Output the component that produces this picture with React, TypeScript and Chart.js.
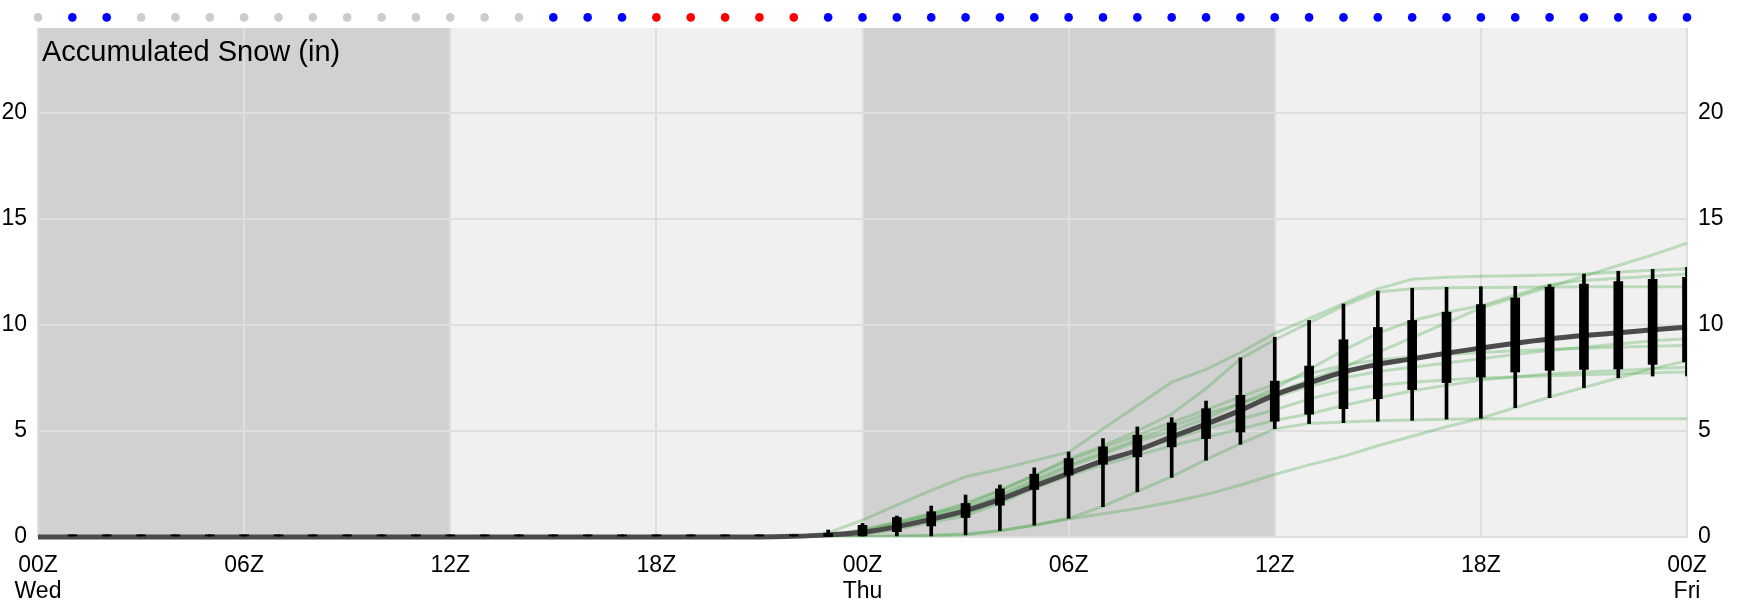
import React, { useEffect, useRef } from 'react';
import { Chart, registerables } from 'chart.js';

Chart.register(...registerables);

// ---------- data ----------
const hours = [0, 1, 2, 3, 4, 5, 6, 7, 8, 9, 10, 11, 12, 13, 14, 15, 16, 17, 18, 19, 20, 21, 22, 23, 24, 25, 26, 27, 28, 29, 30, 31, 32, 33, 34, 35, 36, 37, 38, 39, 40, 41, 42, 43, 44, 45, 46, 47, 48];

const xTickHours = [0, 6, 12, 18, 24, 30, 36, 42, 48];
const xTickLabels = [['00Z', 'Wed'], '06Z', '12Z', '18Z', ['00Z', 'Thu'], '06Z', '12Z', '18Z', ['00Z', 'Fri']];
const yTicks = [0, 5, 10, 15, 20];
const yMax = 24;
const chartTitle = 'Accumulated Snow (in)';

// night periods (hours) shaded darker
const nightPeriods = [[0, 12], [24, 36]];
const dayPeriods = [[12, 24], [36, 48]];

// precipitation type indicator per hour
const precipType = [
  'none', 'snow', 'snow', 'none', 'none', 'none', 'none', 'none', 'none', 'none', 'none', 'none', 'none', 'none', 'none',
  'snow', 'snow', 'snow',
  'rain', 'rain', 'rain', 'rain', 'rain',
  'snow', 'snow', 'snow', 'snow', 'snow', 'snow', 'snow', 'snow', 'snow', 'snow', 'snow', 'snow', 'snow',
  'snow', 'snow', 'snow', 'snow', 'snow', 'snow', 'snow', 'snow', 'snow', 'snow', 'snow', 'snow', 'snow',
];

// ensemble mean
const meanSnow = [0, 0, 0, 0, 0, 0, 0, 0, 0, 0, 0, 0, 0, 0, 0, 0, 0, 0, 0, 0, 0, 0,
  0.03, 0.1, 0.22, 0.49, 0.83, 1.24, 1.77, 2.4, 3.0, 3.59, 4.09, 4.72, 5.32, 5.97, 6.7,
  7.26, 7.78, 8.14, 8.4, 8.67, 8.91, 9.14, 9.34, 9.5, 9.63, 9.77, 9.89];

// box / whisker statistics per hour
const whiskerLow = [null, 0, 0, 0, 0, 0, 0, 0, 0, 0, 0, 0, 0, 0, 0, 0, 0, 0, 0, 0, 0, 0,
  0, 0, 0, 0.05, 0.05, 0.1, 0.3, 0.56, 0.88, 1.43, 2.13, 2.81, 3.62, 4.37, 5.11,
  5.35, 5.39, 5.46, 5.5, 5.55, 5.6, 6.1, 6.57, 7.04, 7.51, 7.59, 7.59];
const boxLow = [null, 0, 0, 0, 0, 0, 0, 0, 0, 0, 0, 0, 0, 0, 0, 0, 0, 0, 0, 0, 0, 0,
  0, 0.02, 0.05, 0.25, 0.52, 0.92, 1.5, 2.24, 2.92, 3.43, 3.78, 4.25, 4.64, 4.95, 5.46,
  5.79, 6.05, 6.52, 6.95, 7.28, 7.54, 7.78, 7.86, 7.9, 7.92, 8.14, 8.25];
const boxHigh = [null, 0.1, 0.1, 0.1, 0.1, 0.1, 0.1, 0.1, 0.1, 0.1, 0.1, 0.1, 0.1, 0.1, 0.1, 0.1, 0.1, 0.1, 0.1, 0.1, 0.1, 0.1,
  0.1, 0.17, 0.55, 0.92, 1.19, 1.58, 2.27, 2.96, 3.7, 4.25, 4.8, 5.38, 6.05, 6.68, 7.35,
  8.06, 9.3, 9.88, 10.21, 10.6, 10.96, 11.27, 11.78, 11.93, 12.04, 12.15, 12.24];
const whiskerHigh = [null, 0.1, 0.1, 0.1, 0.1, 0.1, 0.1, 0.1, 0.1, 0.1, 0.1, 0.1, 0.1, 0.1, 0.1, 0.1, 0.1, 0.1, 0.1, 0.1, 0.1, 0.1,
  0.1, 0.33, 0.64, 0.99, 1.46, 1.98, 2.45, 3.26, 4.01, 4.64, 5.19, 5.63, 6.41, 8.45, 9.42,
  10.21, 10.99, 11.59, 11.73, 11.77, 11.8, 11.82, 11.9, 12.4, 12.53, 12.62, 12.72];

// ensemble members, hourly from hour 22 to hour 48
const memberStartHour = 22;
const memberA = [0, 0.2, 0.8, 1.5, 2.2, 2.84, 3.2, 3.6, 4.0, 5.1, 6.2, 7.3, 7.9, 8.7, 9.6, 10.3, 11.0, 11.7, 12.15, 12.25, 12.3, 12.32, 12.35, 12.4, 12.5, 12.58, 12.65];
const memberB = [0, 0.05, 0.35, 0.7, 1.1, 1.6, 2.2, 2.9, 3.7, 4.3, 5.0, 5.8, 7.0, 8.4, 9.3, 10.1, 10.9, 11.55, 11.7, 11.75, 11.77, 11.78, 11.79, 11.8, 11.8, 11.8, 11.8];
const memberC = [0, 0.05, 0.25, 0.6, 1.0, 1.4, 2.0, 2.7, 3.4, 4.0, 4.6, 5.2, 5.8, 6.3, 6.8, 7.4, 8.0, 8.7, 9.4, 10.1, 10.8, 11.3, 11.8, 12.3, 12.8, 13.3, 13.85];
const memberD = [0, 0.03, 0.2, 0.5, 0.85, 1.2, 1.8, 2.5, 3.1, 3.6, 4.1, 4.7, 5.4, 6.0, 6.6, 7.1, 7.5, 7.8, 8.0, 8.2, 8.4, 8.6, 8.8, 8.95, 9.1, 9.25, 9.35];
const memberE = [0, 0.05, 0.3, 0.7, 1.1, 1.5, 2.2, 2.9, 3.6, 4.2, 4.8, 5.4, 6.0, 6.6, 7.2, 7.7, 8.1, 8.35, 8.5, 8.6, 8.7, 8.78, 8.85, 8.9, 8.95, 9.0, 9.03];
const memberF = [0, 0, 0.02, 0.05, 0.08, 0.15, 0.3, 0.55, 0.88, 1.45, 2.15, 2.85, 3.65, 4.4, 5.1, 5.35, 5.42, 5.48, 5.52, 5.55, 5.58, 5.58, 5.58, 5.58, 5.58, 5.58, 5.58];
const memberG = [0, 0.02, 0.1, 0.35, 0.7, 1.0, 1.6, 2.3, 2.9, 3.4, 3.85, 4.3, 4.7, 5.1, 5.5, 5.8, 6.2, 6.55, 6.9, 7.15, 7.4, 7.55, 7.7, 7.78, 7.85, 7.93, 8.0];
const memberH = [0, 0.03, 0.15, 0.45, 0.8, 1.1, 1.7, 2.4, 3.0, 3.55, 4.1, 4.6, 5.1, 5.55, 6.0, 6.5, 6.9, 7.15, 7.3, 7.4, 7.5, 7.55, 7.6, 7.65, 7.7, 7.75, 7.78];
const memberJ = [0, 0.04, 0.2, 0.55, 0.95, 1.3, 1.9, 2.6, 3.3, 3.9, 4.5, 5.0, 5.6, 6.3, 7.0, 7.9, 8.8, 9.6, 10.2, 10.6, 10.9, 11.4, 11.9, 12.1, 12.2, 12.3, 12.4];
const memberL = [0, 0, 0, 0.03, 0.05, 0.1, 0.3, 0.55, 0.85, 1.1, 1.35, 1.65, 2.0, 2.45, 2.95, 3.4, 3.8, 4.3, 4.75, 5.2, 5.6, 6.1, 6.6, 7.05, 7.5, 7.95, 8.3];
const members = [memberA, memberB, memberC, memberD, memberE, memberF, memberG, memberH, memberJ, memberL];

// ---------- styles ----------
const FONT = "'Liberation Sans', Arial, Helvetica, sans-serif";
const precipColors: Record<string, string> = { none: '#cccccc', snow: '#0000ff', rain: '#ff0000' };
const DOT_ROW = 24.5;

const W = 1738;
const H = 614;

const backgroundPlugin = {
  id: 'bgShade',
  beforeDraw(chart: any) {
    const { ctx, chartArea, scales } = chart;
    const x = scales.x;
    ctx.save();
    const fill = (periods: number[][], color: string) => {
      ctx.fillStyle = color;
      periods.forEach(([a, b]) => {
        const x0 = x.getPixelForValue(a);
        const x1 = x.getPixelForValue(b);
        ctx.fillRect(x0, chartArea.top, x1 - x0, chartArea.bottom - chartArea.top);
      });
    };
    fill(nightPeriods, '#d1d1d1');
    fill(dayPeriods, '#f0f0f0');
    ctx.restore();
  },
};

// precipitation-type dots above the plot, positioned via the chart's scales
const dotsPlugin = {
  id: 'precipDots',
  afterDraw(chart: any) {
    const { ctx, scales } = chart;
    const yPix = scales.y.getPixelForValue(DOT_ROW);
    ctx.save();
    hours.forEach((h, i) => {
      ctx.beginPath();
      ctx.fillStyle = precipColors[precipType[i]];
      ctx.arc(scales.x.getPixelForValue(h), yPix, 4.3, 0, Math.PI * 2);
      ctx.fill();
    });
    ctx.restore();
  },
};

const titlePlugin = {
  id: 'insideTitle',
  afterDraw(chart: any) {
    const { ctx, chartArea } = chart;
    ctx.save();
    ctx.font = `29px ${FONT}`;
    ctx.fillStyle = '#000';
    ctx.textAlign = 'left';
    ctx.textBaseline = 'alphabetic';
    ctx.fillText(chartTitle, chartArea.left + 4, chartArea.top + 33);
    ctx.restore();
  },
};

export default function App() {
  const canvasRef = useRef<HTMLCanvasElement | null>(null);

  useEffect(() => {
    const canvas = canvasRef.current;
    if (!canvas) return;

    const memberDatasets = members.map((m) => ({
      type: 'line' as const,
      data: m.map((v, k) => ({ x: memberStartHour + k, y: v })),
      borderColor: 'rgba(50,160,50,0.28)',
      borderWidth: 3,
      pointRadius: 0,
      tension: 0,
      fill: false,
      order: 3,
      xAxisID: 'x',
      yAxisID: 'y',
    }));

    const tickFont = { family: FONT, size: 23, lineHeight: 1.12 };

    const chart = new Chart(canvas, {
      type: 'line',
      data: {
        datasets: [
          {
            type: 'bar',
            data: hours.map((h, i) => (boxLow[i] === null ? null : { x: h, y: [boxLow[i], boxHigh[i]] })).filter(Boolean) as any,
            backgroundColor: '#000',
            borderWidth: 0,
            barThickness: 9,
            grouped: false,
            order: 0,
            xAxisID: 'x',
            yAxisID: 'y',
          } as any,
          {
            type: 'bar',
            data: hours.map((h, i) => (whiskerLow[i] === null ? null : { x: h, y: [whiskerLow[i], whiskerHigh[i]] })).filter(Boolean) as any,
            backgroundColor: '#000',
            borderWidth: 0,
            barThickness: 3,
            grouped: false,
            order: 1,
            xAxisID: 'x',
            yAxisID: 'y',
          } as any,
          {
            type: 'line',
            data: hours.map((h, i) => ({ x: h, y: meanSnow[i] })),
            borderColor: '#4b4b4b',
            borderWidth: 5,
            pointRadius: 0,
            cubicInterpolationMode: 'monotone',
            fill: false,
            clip: false,
            order: 2,
            xAxisID: 'x',
            yAxisID: 'y',
          } as any,
          ...memberDatasets,
        ],
      },
      options: {
        animation: false,
        responsive: false,
        devicePixelRatio: 1,
        events: [],
        layout: { padding: { top: 28, left: 0, right: 0, bottom: 0 } },
        plugins: { legend: { display: false }, tooltip: { enabled: false }, title: { display: false } },
        scales: {
          x: {
            type: 'linear',
            min: 0,
            max: 48,
            offset: false,
            afterBuildTicks: (s: any) => {
              s.ticks = xTickHours.map((v) => ({ value: v }));
            },
            afterFit: (s: any) => {
              s.height = H - 537;
              s.paddingLeft = 0;
              s.paddingRight = 0;
            },
            ticks: {
              autoSkip: false,
              maxRotation: 0,
              minRotation: 0,
              color: '#000',
              font: tickFont,
              padding: 16,
              callback: (v: any) => {
                const idx = xTickHours.indexOf(Number(v));
                return idx >= 0 ? (xTickLabels[idx] as any) : '';
              },
            },
            grid: { color: '#dedede', lineWidth: 2, drawTicks: false, offset: false },
            border: { display: false },
          },
          y: {
            type: 'linear',
            position: 'left',
            min: 0,
            max: yMax,
            afterBuildTicks: (s: any) => {
              s.ticks = yTicks.map((v) => ({ value: v }));
            },
            afterFit: (s: any) => {
              s.width = 38;
            },
            ticks: { color: '#000', font: { family: FONT, size: 23 }, padding: 11 },
            grid: { color: '#dedede', lineWidth: 2, drawTicks: false },
            border: { display: false },
          },
          y2: {
            type: 'linear',
            position: 'right',
            min: 0,
            max: yMax,
            afterBuildTicks: (s: any) => {
              s.ticks = yTicks.map((v) => ({ value: v }));
            },
            afterFit: (s: any) => {
              s.width = W - 1687;
            },
            ticks: { color: '#000', font: { family: FONT, size: 23 }, padding: 11 },
            grid: { display: false, drawTicks: false },
            border: { display: false },
          },
        },
      } as any,
      plugins: [backgroundPlugin, dotsPlugin, titlePlugin],
    });

    return () => chart.destroy();
  }, []);

  return (
    <div style={{ position: 'absolute', left: 0, top: 0, width: W, height: H, background: '#fff' }}>
      <canvas ref={canvasRef} width={W} height={H} style={{ display: 'block', width: W, height: H }} />
    </div>
  );
}
